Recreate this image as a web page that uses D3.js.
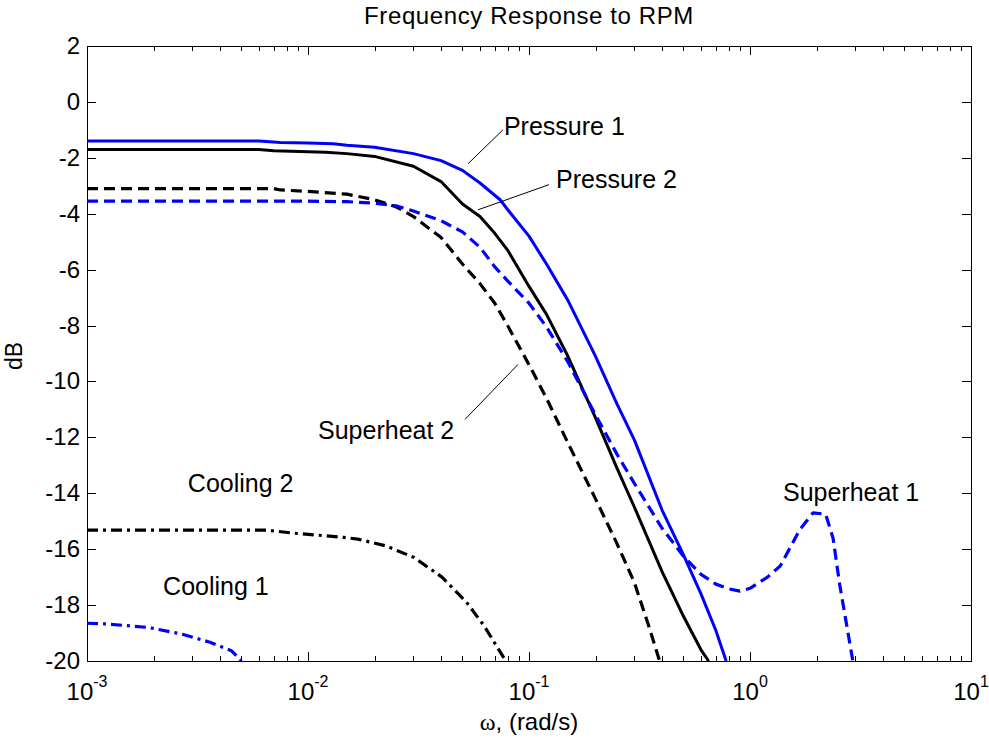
<!DOCTYPE html>
<html><head><meta charset="utf-8">
<script src="https://cdn.jsdelivr.net/npm/d3@7"></script>
<style>
body{margin:0;background:#fff;}
text{font-family:"Liberation Sans",Arial,sans-serif;fill:#000;}
</style></head>
<body><svg id="chart" width="989" height="743"></svg>
<script>
// ---- data (frequency rad/s, magnitude dB) ----
const pressure1W = [0.001,0.006,0.0075,0.01,0.013,0.015,0.02,0.03,0.04,0.05,0.06,0.074,0.08,0.1,0.12,0.15,0.2,0.25,0.3,0.4,0.5,0.6,0.7,0.78];
const pressure1 = [-1.4,-1.4,-1.45,-1.47,-1.5,-1.55,-1.62,-1.85,-2.1,-2.45,-2.9,-3.5,-3.85,-4.8,-5.8,-7.1,-9.1,-10.8,-12.1,-14.6,-16.2,-17.6,-18.9,-20];

const pressure2W = [0.001,0.006,0.007,0.01,0.012,0.015,0.02,0.03,0.04,0.05,0.06,0.07,0.08,0.1,0.12,0.15,0.2,0.25,0.3,0.4,0.5,0.6,0.65];
const pressure2 = [-1.7,-1.7,-1.75,-1.78,-1.8,-1.85,-1.95,-2.3,-2.85,-3.65,-4.1,-4.7,-5.3,-6.6,-7.6,-9.1,-11.3,-13.1,-14.5,-16.8,-18.4,-19.6,-20];

const superheat2W = [0.001,0.007,0.0075,0.01,0.015,0.02,0.025,0.03,0.04,0.05,0.06,0.07,0.08,0.1,0.12,0.15,0.2,0.25,0.3,0.35,0.39];
const superheat2 = [-3.1,-3.1,-3.15,-3.2,-3.3,-3.5,-3.75,-4.1,-4.85,-5.8,-6.5,-7.2,-8.0,-9.4,-10.6,-12.2,-14.2,-15.8,-17.2,-18.8,-20];

const superheat1W = [0.001,0.01,0.015,0.02,0.025,0.03,0.04,0.05,0.06,0.07,0.08,0.1,0.12,0.15,0.2,0.25,0.3,0.4,0.5,0.6,0.7,0.8,0.9,1.0,1.2,1.37,1.68,1.93,2.2,2.375,2.55,2.92];
const superheat1 = [-3.55,-3.55,-3.57,-3.62,-3.72,-3.9,-4.25,-4.65,-5.2,-5.9,-6.4,-7.2,-8.05,-9.3,-11.2,-12.6,-13.65,-15.25,-16.25,-16.9,-17.25,-17.42,-17.5,-17.4,-17.0,-16.6,-15.3,-14.7,-14.75,-15.6,-17.3,-20];

const cooling2W = [0.001,0.0065,0.0087,0.0108,0.0145,0.0168,0.0225,0.0302,0.0404,0.0522,0.0626,0.0785];
const cooling2 = [-15.32,-15.32,-15.43,-15.49,-15.58,-15.64,-15.88,-16.3,-17.0,-17.9,-18.74,-20];

const cooling1W = [0.001,0.0012,0.0019,0.0027,0.0036,0.0045,0.0050];
const cooling1 = [-18.65,-18.67,-18.8,-19.04,-19.33,-19.63,-20];

const yTicks = [2,0,-2,-4,-6,-8,-10,-12,-14,-16,-18,-20];
const xDecades = [-3,-2,-1,0,1];

// annotation texts, anchor (w, dB) and optional leader line
const noteTexts = ["Pressure 1","Pressure 2","Superheat 2","Superheat 1","Cooling 2","Cooling 1"];
const noteW = [0.077,0.1325,0.0111,1.41,0.00286,0.00221];
const noteV = [-1.18,-3.07,-12.07,-14.29,-13.96,-17.64];
const noteLines = [
  [[0.0762,-1.0],[0.053,-2.21]],
  [[0.1232,-2.96],[0.0588,-3.86]],
  [[0.0513,-11.36],[0.0892,-9.39]],
  null,null,null
];

// ---- layout ----
const L=87, T=46, R=971, B=661;
const svg = d3.select("#chart");
const x = d3.scaleLog().domain([1e-3,1e1]).range([L,R]);
const y = d3.scaleLinear().domain([-20,2]).range([B,T]);

svg.append("defs").append("clipPath").attr("id","clip")
  .append("rect").attr("x",L).attr("y",T).attr("width",R-L).attr("height",B-T);

// axes box
svg.append("rect").attr("x",L+0.5).attr("y",T+0.5).attr("width",R-L).attr("height",B-T)
  .attr("fill","none").attr("stroke","#000").attr("stroke-width",1);

// ticks (inward, all four sides)
const minor = [];
xDecades.slice(0,-1).forEach(d=>{for(let k=2;k<=9;k++) minor.push(k*Math.pow(10,d));});
const majorX = xDecades.map(d=>Math.pow(10,d));
const tg = svg.append("g").attr("stroke","#000").attr("stroke-width",1);
majorX.forEach(v=>{
  const px=Math.round(x(v))+0.5;
  tg.append("line").attr("x1",px).attr("x2",px).attr("y1",B).attr("y2",B-9);
  tg.append("line").attr("x1",px).attr("x2",px).attr("y1",T).attr("y2",T+9);
});
minor.forEach(v=>{
  const px=Math.round(x(v))+0.5;
  tg.append("line").attr("x1",px).attr("x2",px).attr("y1",B).attr("y2",B-5);
  tg.append("line").attr("x1",px).attr("x2",px).attr("y1",T).attr("y2",T+5);
});
yTicks.forEach(v=>{
  const py=Math.round(y(v))+0.5;
  tg.append("line").attr("x1",L).attr("x2",L+9).attr("y1",py).attr("y2",py);
  tg.append("line").attr("x1",R).attr("x2",R-9).attr("y1",py).attr("y2",py);
});

// y tick labels
svg.append("g").selectAll("text").data(yTicks).join("text")
  .attr("x",L-7).attr("y",d=>y(d)+8).attr("text-anchor","end")
  .attr("font-size",24).text(d=>d);

// x tick labels 10^n
const xl = svg.append("g");
xDecades.forEach(d=>{
  const t = xl.append("text").attr("x",x(Math.pow(10,d))).attr("y",B+39)
    .attr("text-anchor","middle").attr("font-size",24);
  t.append("tspan").text("10");
  t.append("tspan").attr("dy",-13).attr("font-size",16).text(d);
});

// title & axis labels
svg.append("text").attr("x",(L+R)/2).attr("y",24).attr("text-anchor","middle")
  .attr("font-size",24).attr("letter-spacing",0.6).text("Frequency Response to RPM");
const xt = svg.append("text").attr("x",(L+R)/2).attr("y",730).attr("text-anchor","middle").attr("font-size",24);
xt.append("tspan").attr("font-family","'Liberation Serif',serif").text("ω");
xt.append("tspan").text(", (rad/s)");
svg.append("text").attr("transform","translate(22,356) rotate(-90)").attr("text-anchor","middle")
  .attr("font-size",23).text("dB");

// curves
const line = d3.line().x(d=>x(d[0])).y(d=>y(d[1]));
const series = [
  {w:pressure1W, v:pressure1, color:"#0000ff", dash:null, width:3},
  {w:pressure2W, v:pressure2, color:"#000000", dash:null, width:3},
  {w:superheat2W, v:superheat2, color:"#000000", dash:"11,6", width:3.2},
  {w:superheat1W, v:superheat1, color:"#0000ff", dash:"11,6", width:3.2},
  {w:cooling2W, v:cooling2, color:"#000000", dash:"11,5,3,5", width:3.2},
  {w:cooling1W, v:cooling1, color:"#0000ff", dash:"11,5,3,5", width:3.2}
];
const cg = svg.append("g").attr("clip-path","url(#clip)");
series.forEach(s=>{
  cg.append("path").datum(s.w.map((w,i)=>[w,s.v[i]]))
    .attr("d",line).attr("fill","none").attr("stroke",s.color)
    .attr("stroke-width",s.width).attr("stroke-dasharray",s.dash)
    .attr("stroke-linejoin","round");
});

// annotations
const ng = svg.append("g");
noteTexts.forEach((t,i)=>{
  ng.append("text").attr("x",x(noteW[i])).attr("y",y(noteV[i])).attr("font-size",25).text(t);
  const ln = noteLines[i];
  if(ln){
    ng.append("line").attr("x1",x(ln[0][0])).attr("y1",y(ln[0][1]))
      .attr("x2",x(ln[1][0])).attr("y2",y(ln[1][1]))
      .attr("stroke","#000").attr("stroke-width",1);
  }
});
</script></body></html>
